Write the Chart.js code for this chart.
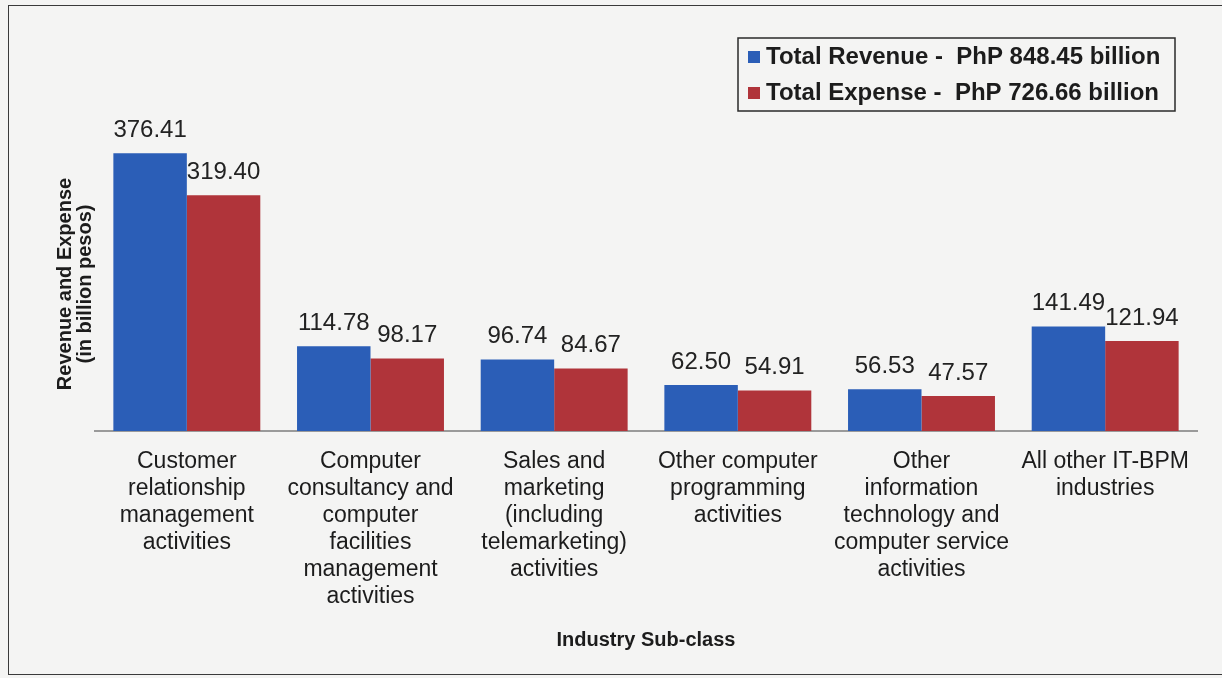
<!DOCTYPE html>
<html>
<head>
<meta charset="utf-8">
<script src="https://cdn.jsdelivr.net/npm/chart.js@4/dist/chart.umd.min.js"></script>
<style>
  html, body { margin: 0; padding: 0; background: #f4f4f3; }
  #frame {
    position: absolute; left: 8px; top: 5px; width: 1222px; height: 670px;
    border: 1.5px solid #3a3a3a; box-sizing: border-box;
  }
  #wrap { position: absolute; left: 0; top: 0; width: 1222px; height: 678px; }
</style>
</head>
<body>
<div id="frame"></div>
<div id="wrap"><canvas id="chart"></canvas></div>
<script>
const categories = [
  ["Customer", "relationship", "management", "activities"],
  ["Computer", "consultancy and", "computer", "facilities", "management", "activities"],
  ["Sales and", "marketing", "(including", "telemarketing)", "activities"],
  ["Other computer", "programming", "activities"],
  ["Other", "information", "technology and", "computer service", "activities"],
  ["All other IT-BPM", "industries"]
];
const seriesNames = [
  "Total Revenue -  PhP 848.45 billion",
  "Total Expense -  PhP 726.66 billion"
];
const revenue = [376.41, 114.78, 96.74, 62.50, 56.53, 141.49];
const expense = [319.40, 98.17, 84.67, 54.91, 47.57, 121.94];

const BLUE = "#2b5eb7";
const RED = "#b0343a";
const TEXT = "#1c1c1c";
const FONT = "'Liberation Sans', Arial, sans-serif";

// value labels above each bar
const valueLabels = {
  id: "valueLabels",
  afterDatasetsDraw(chart) {
    const ctx = chart.ctx;
    ctx.save();
    ctx.font = "24px " + FONT;
    ctx.fillStyle = "#222";
    ctx.textAlign = "center";
    ctx.textBaseline = "middle";
    chart.data.datasets.forEach((ds, i) => {
      chart.getDatasetMeta(i).data.forEach((bar, j) => {
        ctx.fillText(ds.data[j].toFixed(2), bar.x, bar.y - 23);
      });
    });
    ctx.restore();
  }
};

// boxed legend + rotated y title
const extras = {
  id: "extras",
  afterDraw(chart) {
    const ctx = chart.ctx;
    ctx.save();
    // legend box
    ctx.strokeStyle = "#2a2a2a";
    ctx.lineWidth = 1.5;
    ctx.strokeRect(738, 38, 437, 73);
    ctx.font = "bold 24px " + FONT;
    ctx.textBaseline = "middle";
    ctx.textAlign = "left";
    chart.data.datasets.forEach((ds, i) => {
      const y = 57 + i * 36;
      ctx.fillStyle = ds.backgroundColor;
      ctx.fillRect(748, y - 6, 12, 12);
      ctx.fillStyle = TEXT;
      ctx.fillText(ds.label, 766, y);
    });
    // y axis title
    ctx.translate(75, 284);
    ctx.rotate(-Math.PI / 2);
    ctx.textAlign = "center";
    ctx.font = "bold 20px " + FONT;
    ctx.fillText("Revenue and Expense", 0, -10);
    ctx.fillText("(in billion pesos)", 0, 10);
    ctx.restore();
  }
};

new Chart(document.getElementById("chart"), {
  type: "bar",
  data: {
    labels: categories,
    datasets: [
      { label: seriesNames[0], data: revenue, backgroundColor: BLUE },
      { label: seriesNames[1], data: expense, backgroundColor: RED }
    ]
  },
  options: {
    responsive: true,
    maintainAspectRatio: false,
    animation: false,
    layout: { padding: { left: 95, right: 25, top: 62, bottom: 18 } },
    categoryPercentage: 0.8,
    barPercentage: 1.0,
    plugins: {
      legend: { display: false },
      tooltip: { enabled: false }
    },
    scales: {
      x: {
        grid: { display: false, drawTicks: false },
        border: { color: "#9a9a9a", width: 2 },
        ticks: {
          color: TEXT,
          padding: 17,
          maxRotation: 0,
          autoSkip: false,
          font: { family: FONT, size: 23, lineHeight: 1.174 }
        },
        title: {
          display: true,
          text: "Industry Sub-class",
          color: TEXT,
          padding: { top: 0, bottom: 8 },
          font: { family: "'Liberation Sans Narrow', " + FONT, size: 20, weight: "bold" }
        },
        afterFit(scale) { scale.height = 229; }
      },
      y: {
        display: false,
        min: 0,
        max: 500
      }
    }
  },
  plugins: [valueLabels, extras]
});
</script>
</body>
</html>
